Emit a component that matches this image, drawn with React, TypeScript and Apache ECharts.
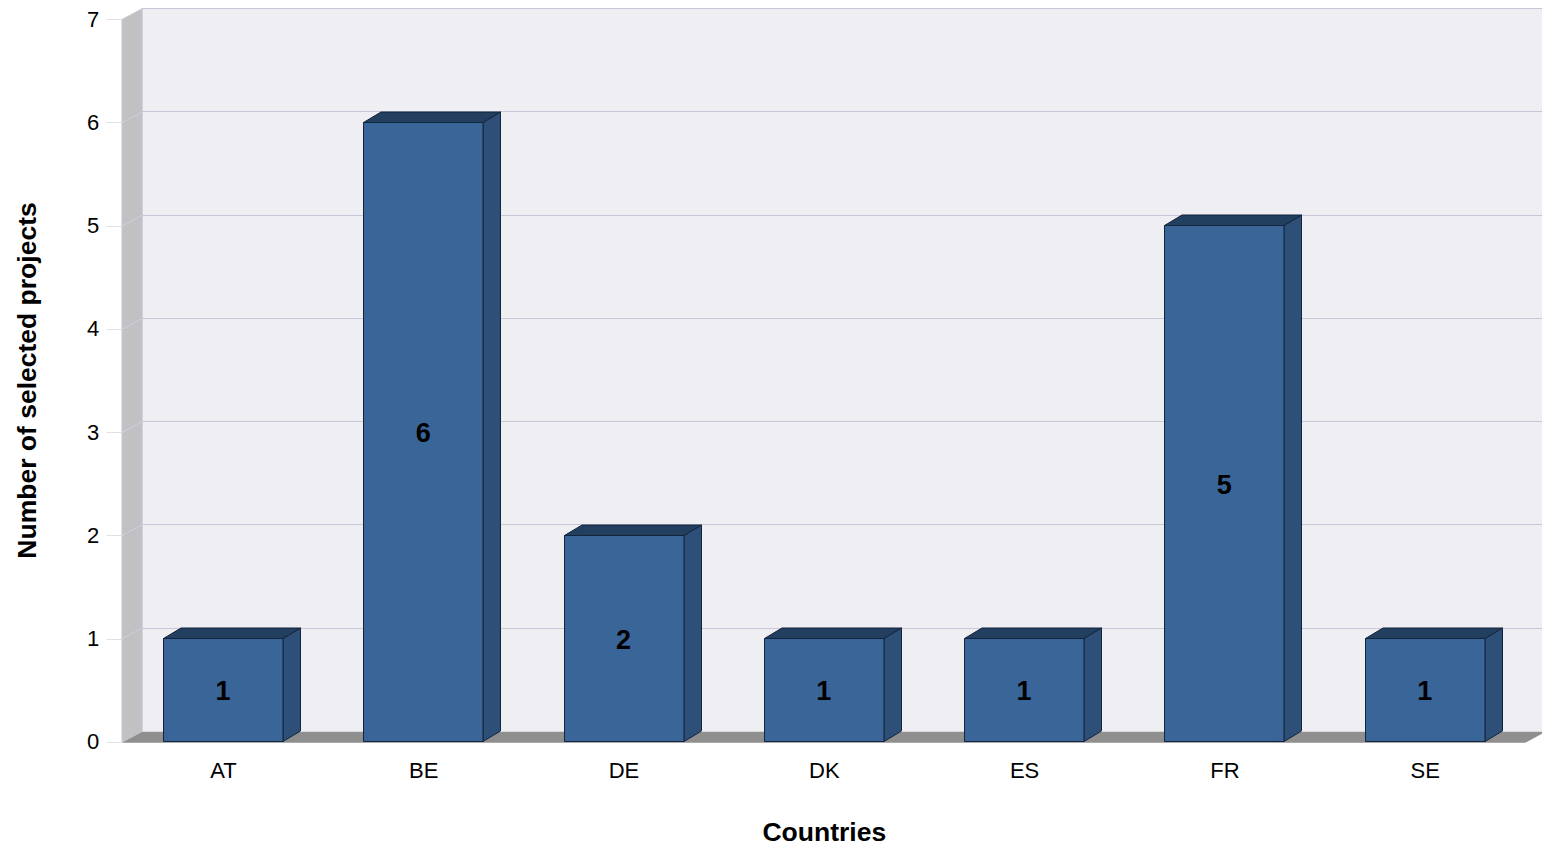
import React, { useEffect, useRef } from "react";
import * as echarts from "echarts";

const categories = ["AT", "BE", "DE", "DK", "ES", "FR", "SE"];
const projects = [1, 6, 2, 1, 1, 5, 1];
const yTicks = [0, 1, 2, 3, 4, 5, 6, 7];

const FONT = "'Liberation Sans', Arial, sans-serif";
const DEPTH_X = 20.5;
const DEPTH_Y = 11;
const BAR_DX = 17.5;
const BAR_DY = 10.5;
const crisp = (v: number) => Math.floor(v) + 0.5;

export default function App() {
  const ref = useRef<HTMLDivElement>(null);
  useEffect(() => {
    const chart = echarts.init(ref.current!, null, { renderer: "svg" });
    chart.setOption({
      animation: false,
      backgroundColor: "#ffffff",
      grid: { left: 123.3, top: 19.2, width: 1402, height: 722.6, outerBoundsMode: "none" },
      xAxis: {
        type: "category",
        data: categories,
        axisLine: { show: false },
        axisTick: { show: false },
        axisLabel: { color: "#000", fontFamily: FONT, fontSize: 22, margin: 18 },
        name: "Countries",
        nameLocation: "middle",
        nameGap: 77,
        nameTextStyle: { color: "#000", fontFamily: FONT, fontSize: 26.5, fontWeight: "bold" },
      },
      yAxis: {
        type: "value",
        min: 0,
        max: 7,
        interval: 1,
        splitLine: { show: false },
        axisLine: { show: false },
        axisTick: { show: false },
        axisLabel: { color: "#000", fontFamily: FONT, fontSize: 22, margin: 24, padding: [2, 0, 0, 0] },
        name: "Number of selected projects",
        nameLocation: "middle",
        nameGap: 83,
        nameTextStyle: { color: "#000", fontFamily: FONT, fontSize: 26.5, fontWeight: "bold" },
      },
      series: [
        {
          type: "custom",
          name: "frame",
          z: 1,
          silent: true,
          data: [0],
          renderItem: (params: any) => {
            const c = params.coordSys;
            const l = c.x - 1.6;
            const t = c.y;
            const r = c.x + c.width;
            const b = c.y + c.height + 1;
            return {
              type: "group",
              children: [
                { type: "rect", shape: { x: l + DEPTH_X, y: t - DEPTH_Y, width: r - l, height: b - t }, style: { fill: "#efeef3" } },
                { type: "polygon", shape: { points: [[l, t], [l + DEPTH_X, t - DEPTH_Y], [l + DEPTH_X, b - DEPTH_Y], [l, b]] }, style: { fill: "#c1c1c3" } },
                { type: "polygon", shape: { points: [[l, b], [l + DEPTH_X, b - DEPTH_Y], [r + DEPTH_X, b - DEPTH_Y], [r, b]] }, style: { fill: "#8f8f8f" } },
                { type: "line", shape: { x1: l, y1: t, x2: l, y2: b }, style: { stroke: "#dcdce6", lineWidth: 1 } },
                { type: "line", shape: { x1: l + DEPTH_X, y1: t - DEPTH_Y, x2: l + DEPTH_X, y2: b - DEPTH_Y }, style: { stroke: "#c8c6d8", lineWidth: 1 } },
              ],
            };
          },
        },
        {
          type: "custom",
          name: "ticks",
          z: 2,
          silent: true,
          data: yTicks.map((v) => [0, v]),
          encode: { x: 0, y: 1 },
          renderItem: (params: any, api: any) => {
            const c = params.coordSys;
            const l = c.x - 1.6;
            const y = api.coord([0, api.value(1)])[1] + 0.5;
            const py = crisp(y);
            const gy = crisp(y - DEPTH_Y);
            const children: any[] = [
              { type: "line", shape: { x1: l - 15, y1: py, x2: l, y2: py }, style: { stroke: "#dfdfe8", lineWidth: 1 } },
            ];
            if (api.value(1) > 0) {
              children.push(
                { type: "line", shape: { x1: l, y1: y, x2: l + DEPTH_X, y2: y - DEPTH_Y }, style: { stroke: "#cfcfdb", lineWidth: 1 } },
                { type: "line", shape: { x1: l + DEPTH_X, y1: gy, x2: c.x + c.width + DEPTH_X, y2: gy }, style: { stroke: "#c8c6d8", lineWidth: 1 } },
              );
            }
            return { type: "group", children };
          },
        },
        {
          type: "custom",
          name: "Number of selected projects",
          z: 3,
          data: categories.map((_, i) => [i, projects[i]]),
          encode: { x: 0, y: 1 },
          renderItem: (_: any, api: any) => {
            const top = api.coord([api.value(0), api.value(1)]);
            const base = api.coord([api.value(0), 0]);
            const w = api.size([1, 0])[0] * 0.604;
            const x0 = Math.round(top[0] - w / 2) + 0.5;
            const x1 = x0 + Math.floor(w) - 0.5;
            const yt = crisp(top[1]);
            const yb = crisp(base[1]);
            const stroke = { stroke: "#13243d", lineWidth: 1 };
            return {
              type: "group",
              children: [
                { type: "polygon", shape: { points: [[x1, yt], [x1 + BAR_DX, yt - BAR_DY], [x1 + BAR_DX, yb - BAR_DY], [x1, yb]] }, style: { fill: "#2e5078", ...stroke } },
                { type: "polygon", shape: { points: [[x0, yt], [x0 + BAR_DX, yt - BAR_DY], [x1 + BAR_DX, yt - BAR_DY], [x1, yt]] }, style: { fill: "#223f60", ...stroke } },
                { type: "rect", shape: { x: x0, y: yt, width: x1 - x0, height: yb - yt }, style: { fill: "#3a6598", ...stroke } },
                {
                  type: "text",
                  x: top[0] - 0.5,
                  y: (top[1] + base[1]) / 2 + 1,
                  style: { text: String(api.value(1)), fill: "#000", fontFamily: FONT, fontSize: 27, fontWeight: "bold", align: "center", verticalAlign: "middle" },
                },
              ],
            };
          },
        },
      ],
    });
    return () => chart.dispose();
  }, []);
  return <div ref={ref} style={{ position: "fixed", left: 0, top: 0, width: 1542, height: 847 }} />;
}
